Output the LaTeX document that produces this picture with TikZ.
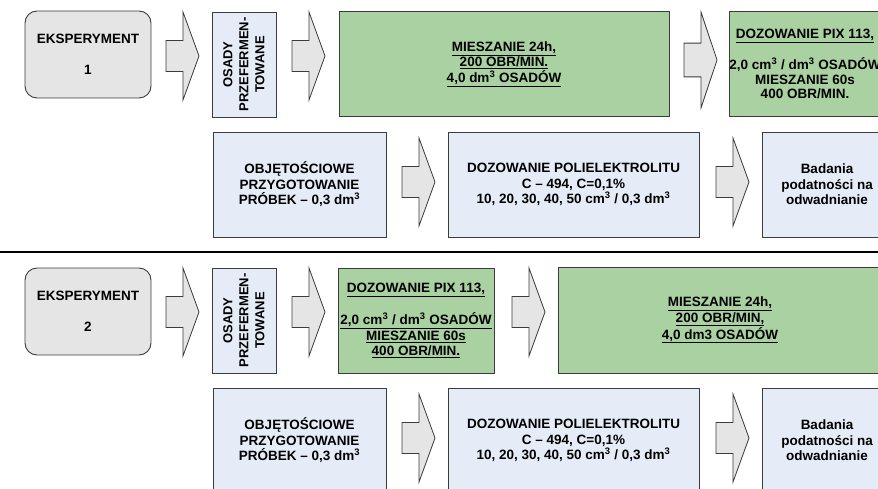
\documentclass[tikz,border=0pt]{standalone}
\usepackage{fontspec}
\setmainfont{Liberation Sans}
\usepackage{xcolor}
\definecolor{boxgray}{RGB}{229,229,229}
\definecolor{boxblue}{RGB}{230,236,247}
\definecolor{boxgreen}{RGB}{170,209,161}
\definecolor{edge}{RGB}{60,60,60}
\tikzset{
  box/.style={draw=edge, line width=0.9pt, inner sep=0pt, align=center,
    font=\bfseries\fontsize{13.5}{15.5}\selectfont},
  expbox/.style={box, fill=boxgray, rounded corners=12pt, minimum width=126pt, minimum height=87pt},
  osbox/.style={box, fill=boxblue, rotate=90, minimum width=105pt, minimum height=64pt,
    font=\bfseries\fontsize{13}{16}\selectfont},
  bluebox/.style={box, fill=boxblue, minimum height=105pt},
  greenbox/.style={box, fill=boxgreen, minimum height=105pt},
  fatarrow/.pic={\draw[draw=edge, fill=boxgray, line width=0.8pt]
    (0,-15.5) -- (17,-15.5) -- (17,-44) -- (33,0) -- (17,44) -- (17,15.5) -- (0,15.5) -- cycle;}
}

\begin{document}
\begin{tikzpicture}[x=1pt,y=-1pt]
  \useasboundingbox (0,0) rectangle (878,489);

  % eksperyment 1
  \node[expbox] (eks1) at (88,54.5) {EKSPERYMENT\\[16pt]1};
  \pic at (166,56) {fatarrow};
  \node[osbox] (osady1) at (244,64.5) {OSADY\\PRZEFERMEN-\\TOWANE};
  \pic at (292,56) {fatarrow};
  \node[greenbox, minimum width=330pt] (miesz1) at (504,64)
    {\underline{MIESZANIE 24h,}\\\underline{200 OBR/MIN.}\\\underline{4,0 dm\textsuperscript{3} OSADÓW}};
  \pic[yscale=1.09] at (684,60) {fatarrow};
  \node[greenbox, minimum width=150pt, font=\bfseries\fontsize{13.5}{14.5}\selectfont] (pix1) at (805,64)
    {\underline{DOZOWANIE PIX 113,}\\[14.5pt]2,0 cm\textsuperscript{3} / dm\textsuperscript{3} OSADÓW\\MIESZANIE 60s\\400 OBR/MIN.};

  \node[bluebox, minimum width=173pt] (obj1) at (299.5,184.5)
    {OBJĘTOŚCIOWE\\PRZYGOTOWANIE\\PRÓBEK -- 0,3 dm\textsuperscript{3}};
  \pic at (402,182) {fatarrow};
  \node[bluebox, minimum width=251pt] (dozpol1) at (573.5,184.5)
    {DOZOWANIE POLIELEKTROLITU\\C -- 494, C=0,1\%\\10, 20, 30, 40, 50 cm\textsuperscript{3} / 0,3 dm\textsuperscript{3}};
  \pic at (716,182) {fatarrow};
  \node[bluebox, minimum width=130pt] (bad1) at (827,184.5) {Badania\\podatności na\\odwadnianie};

  \coordinate (sepL) at (0,252);
  \coordinate (sepR) at (878,252);
  \draw[line width=2.4pt] (sepL) -- (sepR);

  % eksperyment 2
  \node[expbox] (eks2) at (88,311.5) {EKSPERYMENT\\[16pt]2};
  \pic at (166,312) {fatarrow};
  \node[osbox] (osady2) at (244,320.5) {OSADY\\PRZEFERMEN-\\TOWANE};
  \pic at (292,312) {fatarrow};
  \node[greenbox, minimum width=156pt] (pix2) at (416,320.5)
    {\underline{DOZOWANIE PIX 113,}\\[15.5pt]\underline{2,0 cm\textsuperscript{3} / dm\textsuperscript{3} OSADÓW}\\\underline{MIESZANIE 60s}\\\underline{400 OBR/MIN.}};
  \pic at (512,312) {fatarrow};
  \node[greenbox, minimum width=324pt, minimum height=106pt] (miesz2) at (720,320)
    {\underline{MIESZANIE 24h,}\\\underline{200 OBR/MIN,}\\\underline{4,0 dm3 OSADÓW}};

  \node[bluebox, minimum width=173pt] (obj2) at (299.5,440.5)
    {OBJĘTOŚCIOWE\\PRZYGOTOWANIE\\PRÓBEK -- 0,3 dm\textsuperscript{3}};
  \pic at (402,438) {fatarrow};
  \node[bluebox, minimum width=251pt] (dozpol2) at (573.5,440.5)
    {DOZOWANIE POLIELEKTROLITU\\C -- 494, C=0,1\%\\10, 20, 30, 40, 50 cm\textsuperscript{3} / 0,3 dm\textsuperscript{3}};
  \pic at (716,438) {fatarrow};
  \node[bluebox, minimum width=130pt] (bad2) at (827,440.5) {Badania\\podatności na\\odwadnianie};
\end{tikzpicture}
\end{document}
